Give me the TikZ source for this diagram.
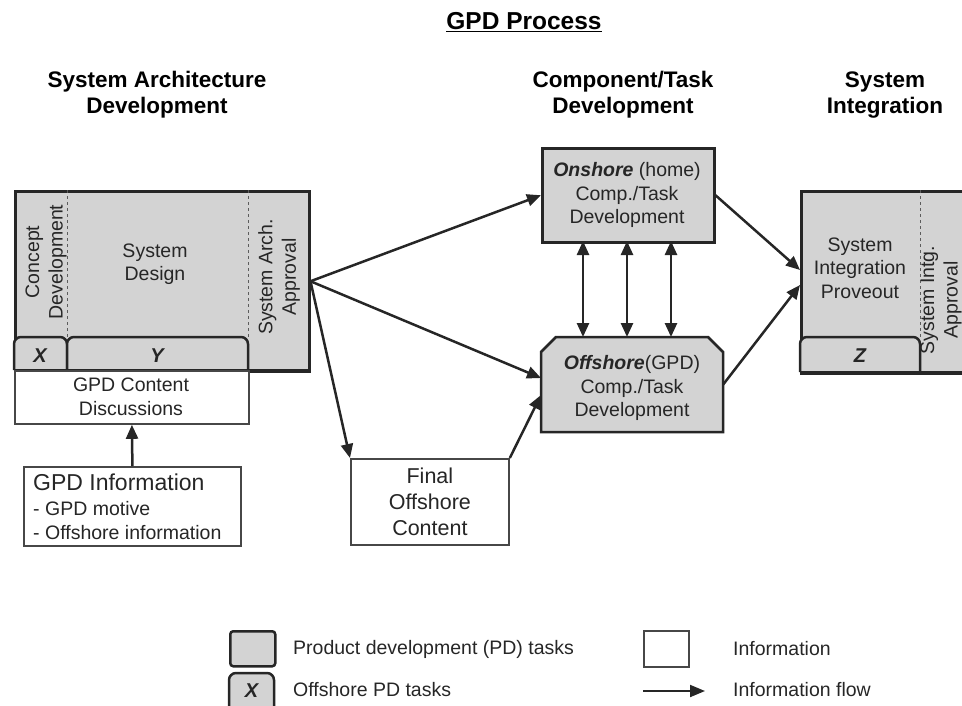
\documentclass[tikz,border=0pt]{standalone}
\usepackage{fontspec}
\setmainfont{Liberation Sans}
\usetikzlibrary{arrows.meta}

\definecolor{pdgray}{HTML}{D3D3D3}
\definecolor{ink}{HTML}{262626}

\begin{document}
\begin{tikzpicture}[x=1pt,y=-1pt,
  pd/.style={draw=ink, fill=pdgray, line width=2.5pt, inner sep=0pt},
  info/.style={draw=ink!85, fill=white, line width=1.8pt, inner sep=0pt},
  tabline/.style={draw=ink, fill=pdgray, line width=2.5pt, rounded corners=7pt},
  sepline/.style={draw=ink!75, dashed, line width=1pt},
  flow/.style={draw=ink, line width=2.5pt, -{Triangle[length=14pt,width=12pt]}},
  twoway/.style={draw=ink, line width=2.5pt, {Triangle[length=14pt,width=12pt]}-{Triangle[length=14pt,width=12pt]}},
  body/.style={font=\fontsize{19.5}{23.5}\selectfont, text=ink, align=center, inner sep=0pt},
  head/.style={font=\fontsize{22.5}{26}\selectfont\bfseries, text=black, align=center, inner sep=0pt},
  tabtext/.style={font=\fontsize{20}{24}\selectfont\bfseries\itshape, text=ink, inner sep=0pt},
  legend/.style={font=\fontsize{19.5}{23}\selectfont, text=ink, anchor=west, inner sep=0pt},
]
\useasboundingbox (0,0) rectangle (962,705);
\clip (0,0) rectangle (962,705);

% title and phase headings
\node[font=\fontsize{24.5}{28}\selectfont\bfseries, inner sep=0pt] (title) at (524,22)
  {\underline{GPD Process}};
\node[head] (h1) at (157,95) {System Architecture\\Development};
\node[head] (h2) at (623,95) {Component/Task\\Development};
\node[head] (h3) at (885,95) {System\\Integration};

% system architecture development block
\node[pd, anchor=north west, minimum width=294pt, minimum height=180pt] (sad) at (14,190) {};
\draw[sepline] (67,190) -- (67,337);
\draw[sepline] (248,190) -- (248,337);
\draw[tabline] (14,370) -- (14,337) -- (67,337) -- (67,370);
\draw[tabline] (67,370) -- (67,337) -- (248,337) -- (248,370);
\draw[draw=ink, line width=2.5pt] (14,370) -- (308,370);
\node[body, rotate=90] (concept) at (46,262) {Concept\\Development};
\node[body] (design) at (155,264) {System\\Design};
\node[body, rotate=90] (archok) at (279,277) {System Arch.\\Approval};
\node[tabtext] (tx) at (40,356) {X};
\node[tabtext] (ty) at (157,356) {Y};

% content discussion and input information
\node[info, anchor=north west, minimum width=234pt, minimum height=53pt] (gc) at (14,370) {};
\node[body] (gctext) at (131,397) {GPD Content\\Discussions};
\node[info, anchor=north west, minimum width=217pt, minimum height=79pt] (gi) at (23,466) {};
\node[font=\fontsize{23}{26}\selectfont, text=ink, anchor=base west, inner sep=0pt] (gi1) at (33,490) {GPD Information};
\node[font=\fontsize{19.5}{23}\selectfont, text=ink, anchor=base west, inner sep=0pt] (gi2) at (33,515) {- GPD motive};
\node[font=\fontsize{19.5}{23}\selectfont, text=ink, anchor=base west, inner sep=0pt] (gi3) at (33,539) {- Offshore information};

% final offshore content
\node[info, anchor=north west, minimum width=158pt, minimum height=86pt,
      font=\fontsize{21.5}{26}\selectfont, text=ink, align=center] (fin) at (350,458)
  {Final\\Offshore\\Content};

% onshore and offshore development
\node[pd, anchor=north west, minimum width=172pt, minimum height=94pt] (on) at (541,147) {};
\node[body] (ontext) at (627,195) {\textbf{\textit{Onshore}} (home)\\Comp./Task\\Development};
\path[pd] (541,432) -- (541,352) -- (556,337) -- (708,337) -- (723,352) -- (723,432) -- cycle;
\node[minimum width=182pt, minimum height=95pt, inner sep=0pt] (off) at (632,384.5) {};
\node[body] (offtext) at (632,388) {\textbf{\textit{Offshore}}(GPD)\\Comp./Task\\Development};

% system integration block
\node[pd, anchor=north west, minimum width=200pt, minimum height=182pt] (si) at (800,190) {};
\draw[sepline] (920,190) -- (920,337);
\draw[tabline] (800,372) -- (800,337) -- (920,337) -- (920,372);
\draw[draw=ink, line width=2.5pt] (800,372) -- (962,372);
\node[body] (sitext) at (860,268) {System\\Integration\\Proveout};
\node[body, rotate=90] (siok) at (941,300) {System Intg.\\Approval};
\node[tabtext] (tz) at (860,356) {Z};

% connection points
\coordinate (offa) at (541,378);
\coordinate (offb) at (541,395);
\coordinate (sia) at (800,270);
\coordinate (sib) at (800,285);

% information flow
\draw[flow] (sad.east) -- (on.west);
\draw[flow] (sad.east) -- (offa);
\draw[flow] (sad.east) -- (fin.north west);
\draw[flow] (fin.north east) -- (offb);
\draw[flow] (on.east) -- (sia);
\draw[flow] (off.east) -- (sib);
\draw[flow] (gi.north) -- (gc.south);
\foreach \xx in {583,627,671}
  \draw[twoway] (\xx,241) -- (\xx,337);

% legend
\node[pd, rounded corners=3pt, anchor=north west, minimum width=45pt, minimum height=35pt] (lgpd) at (229,630) {};
\node[legend] (lgpdt) at (293,649) {Product development (PD) tasks};
\draw[tabline] (229,712) -- (229,673) -- (274,673) -- (274,712);
\node[tabtext] (lgx) at (251.5,691) {X};
\node[legend] (lgxt) at (293,690) {Offshore PD tasks};
\node[info, line width=1.6pt, anchor=north west, minimum width=45pt, minimum height=36pt] (lginfo) at (643,630) {};
\node[legend] (lginfot) at (733,649) {Information};
\coordinate (lga) at (643,691);
\coordinate (lgb) at (705,691);
\draw[draw=ink, line width=2pt, -{Triangle[length=15pt,width=12pt]}] (lga) -- (lgb);
\node[legend] (lgat) at (733,690) {Information flow};
\end{tikzpicture}
\end{document}
